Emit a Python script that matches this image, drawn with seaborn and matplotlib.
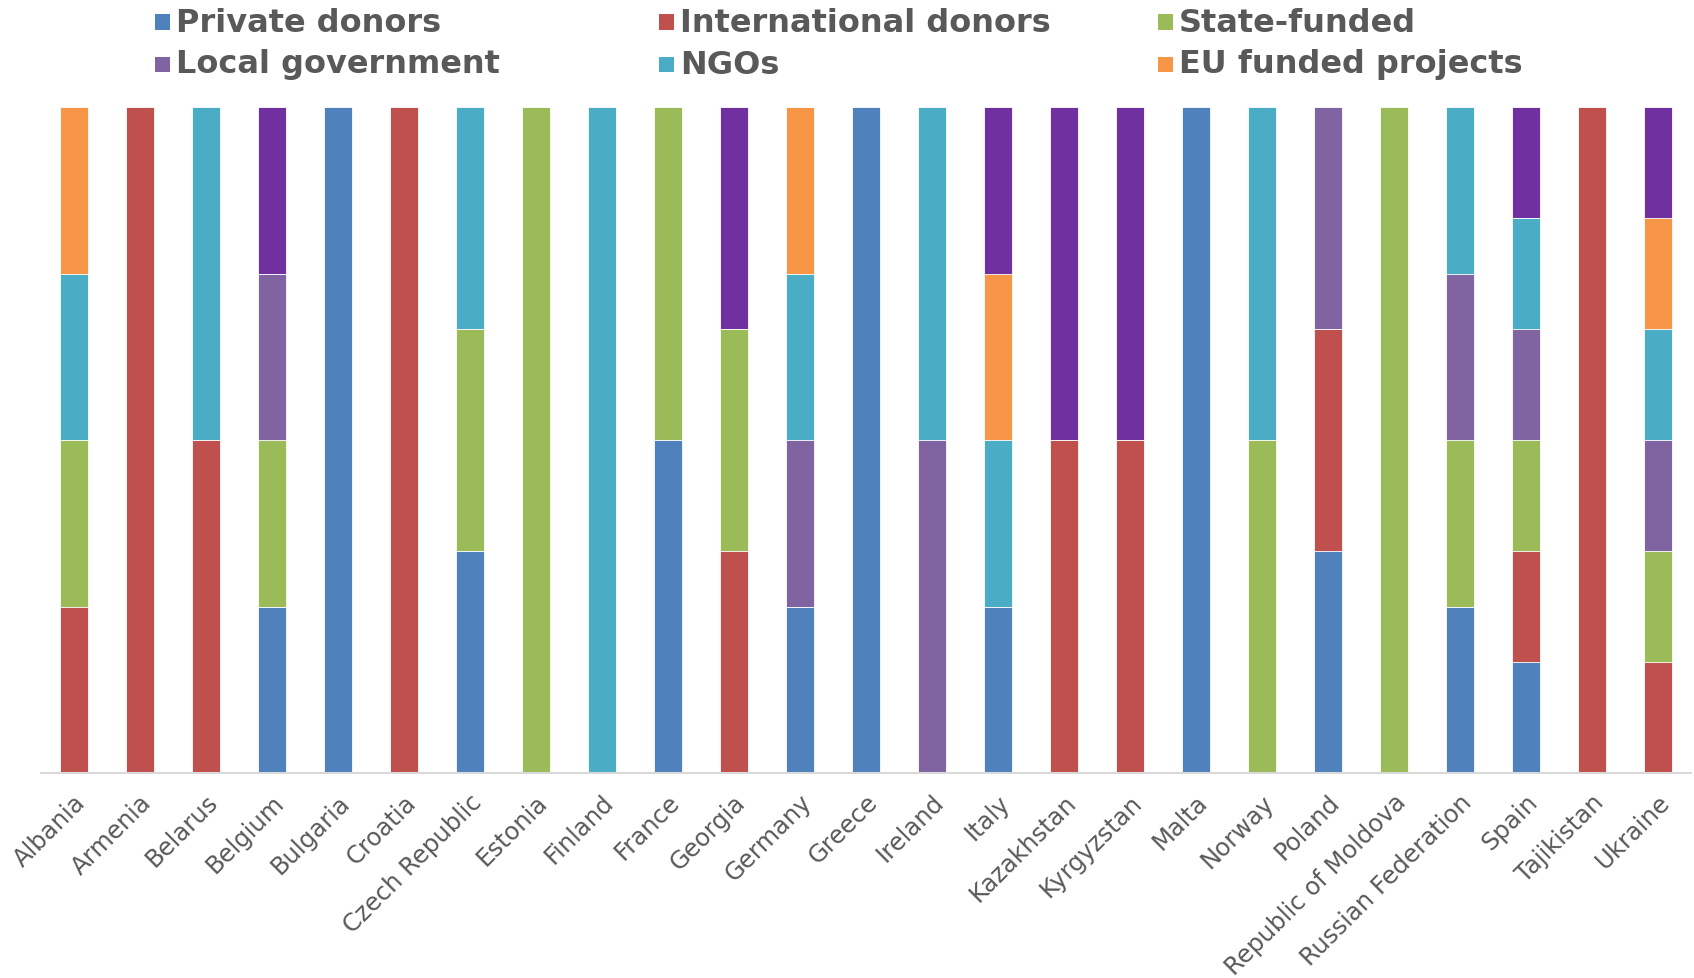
import matplotlib
matplotlib.use("Agg")
import matplotlib.pyplot as plt
import matplotlib.transforms as mtransforms
from matplotlib.patches import Rectangle
import numpy as np
import pandas as pd
import seaborn as sns

countries = ["Albania", "Armenia", "Belarus", "Belgium", "Bulgaria", "Croatia",
             "Czech Republic", "Estonia", "Finland", "France", "Georgia", "Germany",
             "Greece", "Ireland", "Italy", "Kazakhstan", "Kyrgyzstan", "Malta",
             "Norway", "Poland", "Republic of Moldova", "Russian Federation",
             "Spain", "Tajikistan", "Ukraine"]

# shares in percent
private_donors = [0, 0, 0, 25, 100, 0, 33.3, 0, 0, 50, 0, 25, 100, 0, 25, 0, 0, 100, 0, 33.3, 0, 25, 16.7, 0, 0]
international_donors = [25, 100, 50, 0, 0, 100, 0, 0, 0, 0, 33.3, 0, 0, 0, 0, 50, 50, 0, 0, 33.3, 0, 0, 16.7, 100, 16.7]
state_funded = [25, 0, 0, 25, 0, 0, 33.3, 100, 0, 50, 33.3, 0, 0, 0, 0, 0, 0, 0, 50, 0, 100, 25, 16.7, 0, 16.7]
local_government = [0, 0, 0, 25, 0, 0, 0, 0, 0, 0, 0, 25, 0, 50, 0, 0, 0, 0, 0, 33.3, 0, 25, 16.7, 0, 16.7]
ngos = [25, 0, 50, 0, 0, 0, 33.3, 0, 100, 0, 0, 25, 0, 50, 25, 0, 0, 0, 50, 0, 0, 25, 16.7, 0, 16.7]
eu_funded = [25, 0, 0, 0, 0, 0, 0, 0, 0, 0, 0, 25, 0, 0, 25, 0, 0, 0, 0, 0, 0, 0, 0, 0, 16.7]
other = [0, 0, 0, 25, 0, 0, 0, 0, 0, 0, 33.3, 0, 0, 0, 25, 50, 50, 0, 0, 0, 0, 0, 16.7, 0, 16.7]

series_names = ["Private donors", "International donors", "State-funded",
                "Local government", "NGOs", "EU funded projects", "Other"]
series_values = [private_donors, international_donors, state_funded,
                 local_government, ngos, eu_funded, other]
colors = ["#4F81BD", "#C0504D", "#9BBB59", "#8064A2", "#4BACC6", "#F79646", "#7030A0"]

W, H = 1694, 979
fig = plt.figure(figsize=(W / 100, H / 100), dpi=100)
sns.set_style("white")
plt.rcParams["font.family"] = ["DejaVu Sans"]

ax = fig.add_axes([41 / W, 1 - 774 / H, (1691 - 41) / W, (774 - 108) / H])

df = pd.DataFrame({"country": countries})
for name, vals in zip(series_names, series_values):
    df[name] = vals
cum = df[series_names].cumsum(axis=1)

# draw cumulative totals from the top series down so each layer covers the previous
for name, col in reversed(list(zip(series_names, colors))):
    sns.barplot(x=df["country"], y=cum[name] / cum[series_names[-1]] * 100,
                color=col, width=0.41, ax=ax, saturation=1,
                edgecolor="white", linewidth=0.6, order=countries)

ax.set_xlim(-0.5, len(countries) - 0.5)
ax.set_ylim(0, 100)
ax.set_xlabel("")
ax.set_ylabel("")
ax.set_yticks([])
for s in ["top", "right", "left"]:
    ax.spines[s].set_visible(False)
ax.spines["bottom"].set_color("#D9D9D9")
ax.spines["bottom"].set_linewidth(1.5)

ax.set_xticks(np.arange(len(countries)))
ax.set_xticks(np.arange(len(countries) + 1) - 0.5, minor=True)
ax.tick_params(axis="x", which="major", length=0, pad=18)
ax.tick_params(axis="x", which="minor", length=5.5, width=1.4, color="#D9D9D9")
ax.set_xticklabels(countries, rotation=45, ha="right", va="center",
                   rotation_mode="anchor", fontsize=17.5, color="#595959")
offset = mtransforms.ScaledTranslation(8 / 100, 0, fig.dpi_scale_trans)
for lbl in ax.get_xticklabels():
    lbl.set_transform(lbl.get_transform() + offset)

# legend (first six series) laid out in three columns, two rows
col_x = [155, 659, 1158]
row_y = [23, 65]
msize = 15
for i in range(6):
    c, r = i % 3, i // 3
    x0, yc = col_x[c], row_y[r]
    fig.add_artist(Rectangle((x0 / W, 1 - (yc + msize / 2) / H), msize / W, msize / H,
                             transform=fig.transFigure, facecolor=colors[i],
                             edgecolor="none"))
    fig.text((x0 + msize + 6) / W, 1 - yc / H, series_names[i], fontsize=23,
             fontweight="bold", color="#595959", ha="left", va="center")

fig.savefig("out.png", dpi=100, facecolor="white")
